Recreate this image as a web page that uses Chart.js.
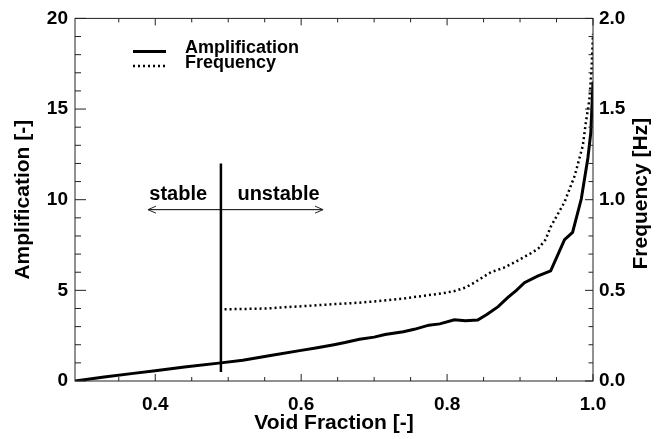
<!DOCTYPE html>
<html>
<head>
<meta charset="utf-8">
<script src="https://cdn.jsdelivr.net/npm/chart.js@4/dist/chart.umd.min.js"></script>
<style>
body{margin:0;background:#fff}
#wrap{width:664px;height:439px;position:relative}
</style>
</head>
<body>
<div id="wrap"><canvas id="chart"></canvas></div>
<script>
// values
const ampVoid = [0.29,0.33,0.37,0.40,0.44,0.49,0.52,0.56,0.60,0.62,0.645,0.66,0.68,0.70,0.715,0.74,0.755,0.775,0.79,0.81,0.825,0.842,0.855,0.87,0.883,0.895,0.906,0.924,0.942,0.961,0.972,0.984,0.993,0.997,1.0];
const amplification = [0,0.22,0.42,0.57,0.77,1.0,1.15,1.42,1.69,1.82,2.0,2.12,2.3,2.42,2.56,2.72,2.85,3.08,3.15,3.38,3.32,3.36,3.68,4.1,4.6,5.0,5.42,5.78,6.08,7.8,8.2,10.05,12.3,13.7,16.5];

const freqVoid = [0.495,0.52,0.553,0.58,0.60,0.645,0.68,0.709,0.74,0.764,0.791,0.81,0.825,0.837,0.86,0.878,0.895,0.915,0.925,0.935,0.942,0.961,0.975,0.986,0.99,0.995,0.998,1.0];
const frequency = [0.396,0.397,0.400,0.408,0.412,0.424,0.432,0.442,0.455,0.468,0.482,0.496,0.515,0.542,0.600,0.625,0.66,0.705,0.73,0.78,0.85,0.987,1.133,1.297,1.42,1.55,1.72,1.915];

// stability boundary and the arrow under the labels
const boundaryVoid = 0.49;
const boundaryAmp = [0.5, 12];
const arrowVoid = [0.39, 0.63];
const arrowAmp = 9.45;

const xTicks = [0.4,0.6,0.8,1.0];
const xMinor = [0.35,0.45,0.5,0.55,0.65,0.7,0.75,0.85,0.9,0.95];
const ampTicks = [0,5,10,15,20];
const ampMinor = [1,2,3,4,6,7,8,9,11,12,13,14,16,17,18,19];
const freqTicks = [0,0.5,1.0,1.5,2.0];
const freqMinor = [0.1,0.2,0.3,0.4,0.6,0.7,0.8,0.9,1.1,1.2,1.3,1.4,1.6,1.7,1.8,1.9];

const FONT = '"Liberation Sans", Arial, Helvetica, sans-serif';
Chart.defaults.font.family = FONT;
Chart.defaults.color = '#000';

function pts(xs, ys) {
  return xs.map((v, i) => ({x: v, y: ys[i]}));
}

const figureDecor = {
  id: 'figureDecor',
  afterDatasetsDraw(chart) {
    const {ctx, chartArea: a} = chart;
    const x = chart.scales.x, y = chart.scales.y, y1 = chart.scales.y1;
    ctx.save();
    ctx.strokeStyle = '#222';
    ctx.lineWidth = 1;
    ctx.strokeRect(a.left, a.top, a.right - a.left, a.bottom - a.top);

    function seg(x0, y0, x1, y1_) {
      ctx.beginPath(); ctx.moveTo(x0, y0); ctx.lineTo(x1, y1_); ctx.stroke();
    }
    // inward ticks
    xTicks.forEach(v => { const p = x.getPixelForValue(v); seg(p, a.bottom, p, a.bottom - 7); seg(p, a.top, p, a.top + 7); });
    xMinor.forEach(v => { const p = x.getPixelForValue(v); seg(p, a.bottom, p, a.bottom - 4); seg(p, a.top, p, a.top + 4); });
    ampTicks.forEach(v => { const p = y.getPixelForValue(v); seg(a.left, p, a.left + 11, p); });
    ampMinor.forEach(v => { const p = y.getPixelForValue(v); seg(a.left, p, a.left + 6, p); });
    freqTicks.forEach(v => { const p = y1.getPixelForValue(v); seg(a.right, p, a.right - 8, p); });
    freqMinor.forEach(v => { const p = y1.getPixelForValue(v); seg(a.right, p, a.right - 4.5, p); });

    // arrow heads
    const ay = y.getPixelForValue(arrowAmp);
    const ax0 = x.getPixelForValue(arrowVoid[0]);
    const ax1 = x.getPixelForValue(arrowVoid[1]);
    ctx.lineWidth = 1;
    ctx.beginPath();
    ctx.moveTo(ax0 + 8, ay - 3.5); ctx.lineTo(ax0, ay); ctx.lineTo(ax0 + 8, ay + 3.5);
    ctx.moveTo(ax1 - 8, ay - 3.5); ctx.lineTo(ax1, ay); ctx.lineTo(ax1 - 8, ay + 3.5);
    ctx.stroke();

    ctx.fillStyle = '#000';
    ctx.font = 'bold 20px ' + FONT;
    ctx.textAlign = 'center';
    ctx.textBaseline = 'middle';
    ctx.fillText('stable', x.getPixelForValue(0.4315), y.getPixelForValue(10.3));
    ctx.fillText('unstable', x.getPixelForValue(0.569), y.getPixelForValue(10.3));

    // legend
    ctx.font = 'bold 18px ' + FONT;
    ctx.textAlign = 'left';
    const ds = chart.data.datasets;
    [0, 1].forEach((k, i) => {
      const ly = a.top + 33 + i * 14.5;
      ctx.save();
      ctx.strokeStyle = ds[k].borderColor;
      ctx.lineWidth = ds[k].borderWidth;
      ctx.setLineDash(ds[k].borderDash || []);
      seg(a.left + 58, ly, a.left + 91, ly);
      ctx.restore();
      ctx.fillText(ds[k].label, a.left + 110, ly - 3);
    });

    // right axis title, reading bottom to top
    ctx.font = 'bold 21px ' + FONT;
    ctx.textAlign = 'center';
    ctx.translate(641, (a.top + a.bottom) / 2 - 6);
    ctx.rotate(-Math.PI / 2);
    ctx.fillText('Frequency [Hz]', 0, 0);
    ctx.restore();
  }
};

new Chart(document.getElementById('chart'), {
  type: 'line',
  data: {
    datasets: [
      {label: 'Amplification', data: pts(ampVoid, amplification), yAxisID: 'y',
       borderColor: '#000', borderWidth: 3, pointRadius: 0, tension: 0},
      {label: 'Frequency', data: pts(freqVoid, frequency), yAxisID: 'y1',
       borderColor: '#000', borderWidth: 2.5, borderDash: [2, 3], pointRadius: 0, tension: 0},
      {label: 'boundary', data: [{x: boundaryVoid, y: boundaryAmp[0]}, {x: boundaryVoid, y: boundaryAmp[1]}], yAxisID: 'y',
       borderColor: '#000', borderWidth: 2.5, pointRadius: 0},
      {label: 'arrow', data: [{x: arrowVoid[0], y: arrowAmp}, {x: arrowVoid[1], y: arrowAmp}], yAxisID: 'y',
       borderColor: '#000', borderWidth: 1, pointRadius: 0}
    ]
  },
  options: {
    responsive: true,
    maintainAspectRatio: false,
    animation: false,
    layout: {padding: {top: 14, left: 0, right: 0, bottom: 0}},
    plugins: {legend: {display: false}, tooltip: {enabled: false}},
    scales: {
      x: {
        type: 'linear', min: 0.29, max: 1.0,
        grid: {display: false, drawTicks: false}, border: {display: false},
        afterBuildTicks: s => { s.ticks = xTicks.map(v => ({value: v})); },
        afterFit: s => { s.height = 58; },
        ticks: {font: {size: 19, weight: 'bold'}, padding: 12, maxRotation: 0, autoSkip: false,
                callback: v => v.toFixed(1)},
        title: {display: true, text: 'Void Fraction [-]', font: {size: 21, weight: 'bold'}, padding: {bottom: 3}}
      },
      y: {
        position: 'left', min: 0, max: 20,
        grid: {display: false, drawTicks: false}, border: {display: false},
        afterBuildTicks: s => { s.ticks = ampTicks.map(v => ({value: v})); },
        afterFit: s => { s.width = 75; },
        ticks: {font: {size: 19, weight: 'bold'}, padding: 7, callback: v => String(v)},
        title: {display: true, text: 'Amplification [-]', font: {size: 21, weight: 'bold'}, padding: {top: 11}}
      },
      y1: {
        position: 'right', min: 0, max: 2,
        grid: {display: false, drawTicks: false}, border: {display: false},
        afterBuildTicks: s => { s.ticks = freqTicks.map(v => ({value: v})); },
        afterFit: s => { s.width = 71; },
        ticks: {font: {size: 19, weight: 'bold'}, padding: 6, callback: v => v.toFixed(1)}
      }
    }
  },
  plugins: [figureDecor]
});
</script>
</body>
</html>
